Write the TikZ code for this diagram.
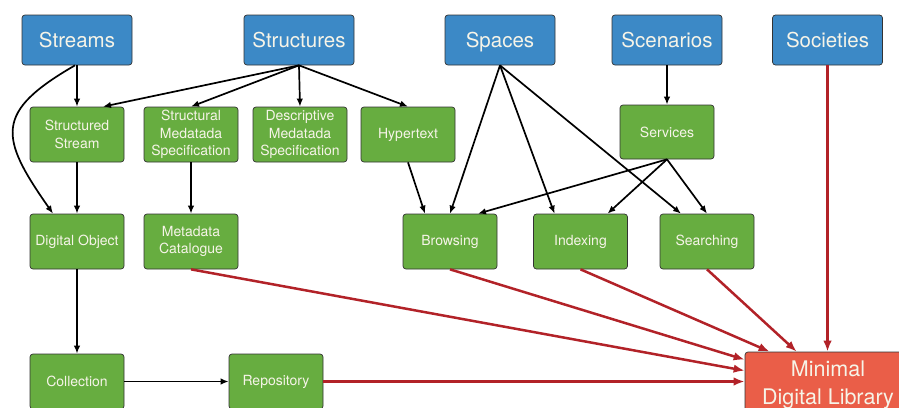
\documentclass[tikz,border=0pt]{standalone}
\usepackage{fontspec}
\setmainfont{TeX Gyre Heros}
\usepackage{tikz}
\usetikzlibrary{arrows.meta}
\definecolor{spaceblue}{RGB}{60,137,198}
\definecolor{leafgreen}{RGB}{103,173,64}
\definecolor{libred}{RGB}{234,94,72}
\definecolor{linkred}{RGB}{178,34,40}
\definecolor{boxtext}{RGB}{246,244,232}

\begin{document}
\begin{tikzpicture}[x=1pt, y=-1pt,
      box/.style={draw=black!80, line width=0.7pt, rounded corners=3pt, text=boxtext, align=center, inner sep=0pt},
      concept/.style={box, fill=spaceblue, minimum width=110pt, minimum height=50pt, text height=15pt, text depth=0pt, font=\fontsize{20.5}{24}\selectfont},
      part/.style={box, fill=leafgreen, minimum width=94pt, minimum height=55pt, font=\fontsize{14}{17.5}\selectfont},
      link/.style={-{Latex[length=8pt,width=6.5pt]}, line width=1.7pt},
      feed/.style={-{Latex[length=11pt,width=8.5pt]}, line width=2.5pt, draw=linkred}]
    \useasboundingbox (0,0) rectangle (899,407);
    \node[concept] (streams) at (77,40) {Streams};
    \node[concept] (structs) at (299,40) {Structures};
    \node[concept] (spaces) at (500,40) {Spaces};
    \node[concept] (scen) at (667,40) {Scenarios};
    \node[concept] (soc) at (827.5,40) {Societies};
    \node[part] (sstream) at (77,134.5) {Structured\\Stream};
    \node[part] (smeta) at (191,134.5) {Structural\\Medatada\\Specification};
    \node[part] (dmeta) at (300,134.5) {Descriptive\\Medatada\\Specification};
    \node[part] (hyper) at (408,134.5) {Hypertext};
    \node[part, minimum height=54pt] (serv) at (667,132) {Services};
    \node[part] (dobj) at (77,241.5) {Digital Object};
    \node[part] (mcat) at (191,241.5) {Metadata\\Catalogue};
    \node[part] (brw) at (450,241.5) {Browsing};
    \node[part] (idx) at (580.5,241.5) {Indexing};
    \node[part] (srch) at (707,241.5) {Searching};
    \node[part] (coll) at (77,381.5) {Collection};
    \node[part] (repo) at (276,381.5) {Repository};
    \node[box, fill=libred, minimum width=166pt, minimum height=66pt, font=\fontsize{21.5}{28}\selectfont] (mdl) at (828,385) {Minimal\\Digital Library};
    \draw[link] (streams) -- (sstream);
    \draw[link] ([xshift=-2pt]streams.south) to[out=-150, in=125, looseness=1.6] ([xshift=-24pt]dobj.north);
    \draw[link] (sstream) -- (dobj);
    \draw[link] (structs.south) -- ([xshift=26pt]sstream.north);
    \draw[link] (structs.south) -- (smeta.north);
    \draw[link] (structs.south) -- (dmeta.north);
    \draw[link] (structs.south) -- (hyper.north);
    \draw[link] (smeta) -- (mcat);
    \draw[link] (hyper.south) -- ([xshift=-25pt]brw.north);
    \draw[link] (spaces.south) -- (brw.north);
    \draw[link] (spaces.south) -- ([xshift=-26pt]idx.north);
    \draw[link] (spaces.south) -- ([xshift=-26pt]srch.north);
    \draw[link] (scen) -- (serv);
    \draw[link] (serv.south) -- ([xshift=28pt]brw.north);
    \draw[link] (serv.south) -- ([xshift=27pt]idx.north);
    \draw[link] (serv.south) -- (srch.north);
    \draw[link] (dobj) -- (coll);
    \draw[link] (coll) -- (repo);
    \draw[feed] (mcat.south) -- ([yshift=-19pt]mdl.north west);
    \draw[feed] (brw.south) -- ([yshift=-8pt]mdl.north west);
    \draw[feed] (repo.east) -- (repo.east -| mdl.west);
    \draw[feed] (idx.south) -- ([xshift=25pt]mdl.north west);
    \draw[feed] (srch.south) -- ([xshift=52pt]mdl.north west);
    \draw[feed] (soc.south) -- (soc.south |- mdl.north);
  \end{tikzpicture}
\end{document}
